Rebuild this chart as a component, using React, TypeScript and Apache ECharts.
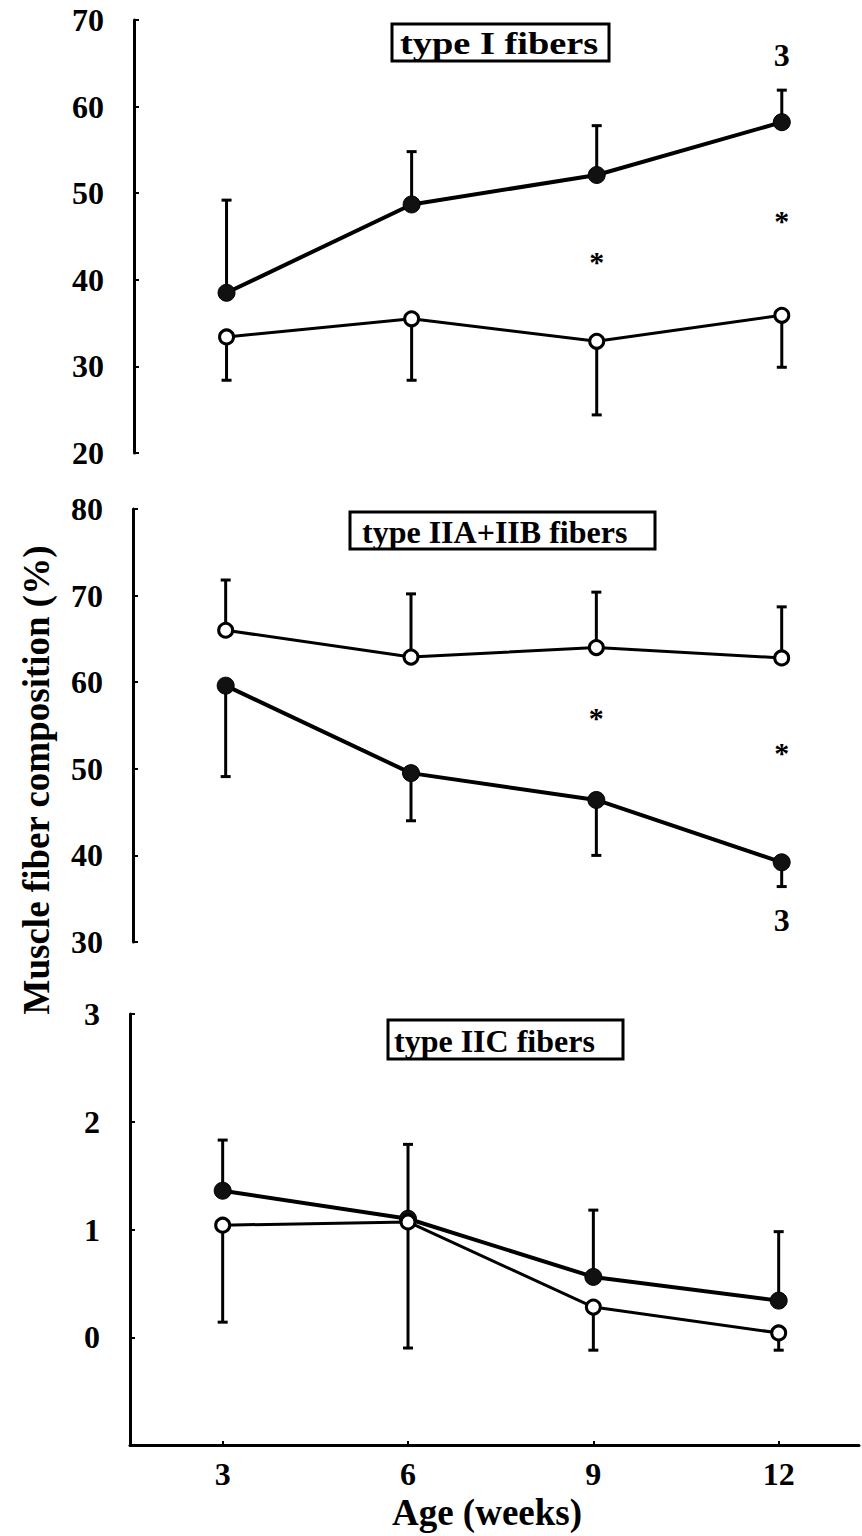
import React, { useEffect, useRef } from "react";
import * as echarts from "echarts";

// ---- data ----
const weeks = [3, 6, 9, 12];
const xTicks = [3, 6, 9, 12];

// type I fibers
const typeIFilledMean = [38.5, 48.7, 52.1, 58.2];
const typeIFilledSD = [10.7, 6.1, 5.7, 3.7]; // drawn upward
const typeIOpenMean = [33.4, 35.5, 32.9, 35.9];
const typeIOpenSD = [5.0, 7.1, 8.5, 6.0]; // drawn downward

// type IIA+IIB fibers
const typeIIFilledMean = [59.6, 49.5, 46.4, 39.2];
const typeIIFilledSD = [10.5, 5.5, 6.4, 2.8]; // downward
const typeIIOpenMean = [66.0, 62.9, 64.0, 62.8];
const typeIIOpenSD = [5.8, 7.3, 6.4, 5.9]; // upward

// type IIC fibers
const typeIICFilledMean = [1.36, 1.1, 0.56, 0.34];
const typeIICFilledSD = [0.47, 0.69, 0.62, 0.64]; // upward
const typeIICOpenMean = [1.04, 1.07, 0.28, 0.04];
const typeIICOpenSD = [0.9, 1.17, 0.4, 0.16]; // downward

const panelTitles = ["type I fibers", "type IIA+IIB fibers", "type IIC fibers"];
const yRanges = [
  [20, 70, 10],
  [30, 80, 10],
  [-1, 3, 1],
];

const annotationsI = [
  { x: 12, y: 66.0, text: "3" },
  { x: 9, y: 42.9, text: "*" },
  { x: 12, y: 47.7, text: "*" },
];
const annotationsII = [
  { x: 9, y: 56.7, text: "*" },
  { x: 12, y: 52.7, text: "*" },
  { x: 12, y: 32.5, text: "3" },
];
const annotationsIIC: { x: number; y: number; text: string }[] = [];

const yAxisTitle = "Muscle fiber composition (%)";
const xAxisTitle = "Age (weeks)";

// ---- layout / style ----
const FONT = '"Liberation Serif", "Times New Roman", Times, serif';
const grids = [
  { left: 134, top: 20, height: 433, width: 739 },
  { left: 133, top: 509, height: 433, width: 732 },
  { left: 130, top: 1014, height: 431, width: 729 },
];
const boxes = [
  { x: 392, y: 24, w: 217, h: 37, pad: 8, sx: 1.2 },
  { x: 350, y: 512, w: 305, h: 37, pad: 12, sx: 1.0 },
  { x: 388, y: 1020, w: 235, h: 39, pad: 6, sx: 1.0 },
];

function errData(means: number[], sds: number[], dir: number) {
  return weeks.map((w, i) => [w, means[i], means[i] + dir * sds[i]]);
}

export default function App() {
  const ref = useRef<HTMLDivElement>(null);
  useEffect(() => {
    if (!ref.current) return;
    const chart = echarts.init(ref.current, undefined, { renderer: "svg" });

    const panels = [
      {
        filled: typeIFilledMean, filledSD: typeIFilledSD, filledDir: 1,
        open: typeIOpenMean, openSD: typeIOpenSD, openDir: -1,
        ann: annotationsI,
      },
      {
        filled: typeIIFilledMean, filledSD: typeIIFilledSD, filledDir: -1,
        open: typeIIOpenMean, openSD: typeIIOpenSD, openDir: 1,
        ann: annotationsII,
      },
      {
        filled: typeIICFilledMean, filledSD: typeIICFilledSD, filledDir: 1,
        open: typeIICOpenMean, openSD: typeIICOpenSD, openDir: -1,
        ann: annotationsIIC,
      },
    ];

    const renderErr = (params: any, api: any) => {
      const x = api.value(0);
      const m = api.value(1);
      const e = api.value(2);
      const p0 = api.coord([x, m]);
      const p1 = api.coord([x, e]);
      const style = { stroke: "#000", lineWidth: 3 };
      return {
        type: "group",
        children: [
          { type: "line", shape: { x1: p0[0], y1: p0[1], x2: p1[0], y2: p1[1] }, style },
          { type: "line", shape: { x1: p1[0] - 5, y1: p1[1], x2: p1[0] + 5, y2: p1[1] }, style },
        ],
      };
    };

    const series: any[] = [];
    panels.forEach((p, i) => {
      series.push({
        type: "custom", xAxisIndex: i, yAxisIndex: i, z: 1,
        renderItem: renderErr, data: errData(p.filled, p.filledSD, p.filledDir),
        encode: { x: 0, y: 1 },
      });
      series.push({
        type: "custom", xAxisIndex: i, yAxisIndex: i, z: 1,
        renderItem: renderErr, data: errData(p.open, p.openSD, p.openDir),
        encode: { x: 0, y: 1 },
      });
      series.push({
        type: "line", xAxisIndex: i, yAxisIndex: i, z: 3,
        data: weeks.map((w, k) => [w, p.filled[k]]),
        symbol: "circle", symbolSize: 17,
        itemStyle: { color: "#111", borderColor: "#000", borderWidth: 1 },
        lineStyle: { color: "#000", width: 4 },
      });
      series.push({
        type: "line", xAxisIndex: i, yAxisIndex: i, z: 4,
        data: weeks.map((w, k) => [w, p.open[k]]),
        symbol: "circle", symbolSize: 14,
        itemStyle: { color: "#fff", borderColor: "#000", borderWidth: 3 },
        lineStyle: { color: "#000", width: 3 },
      });
      if (p.ann.length) {
        series.push({
          type: "scatter", xAxisIndex: i, yAxisIndex: i, z: 5,
          symbolSize: 1, itemStyle: { color: "rgba(0,0,0,0)", opacity: 1 },
          data: p.ann.map((a) => ({
            value: [a.x, a.y],
            label: {
              show: true, position: "inside", formatter: a.text,
              offset: a.text === "*" ? [0, 7] : [0, 0],
              fontFamily: FONT, fontWeight: "bold", opacity: 1,
              fontSize: a.text === "*" ? 30 : 32, color: "#000",
            },
          })),
        });
      }
    });

    const labelStyle = { fontFamily: FONT, fontWeight: "bold", fontSize: 32, color: "#000" };

    const graphic: any[] = [];
    boxes.forEach((b, i) => {
      graphic.push({
        type: "rect", shape: { x: b.x, y: b.y, width: b.w, height: b.h },
        style: { fill: "#fff", stroke: "#000", lineWidth: 3 }, z: 10,
      });
      graphic.push({
        type: "text", x: b.x + b.pad, y: b.y + b.h / 2 + 1, scaleX: b.sx, z: 11,
        style: {
          text: panelTitles[i], fontFamily: FONT, fontWeight: "bold", fontSize: 32,
          fill: "#000", align: "left", verticalAlign: "middle",
        },
      });
    });
    graphic.push({
      type: "text", x: 36, y: 780, rotation: Math.PI / 2, z: 11,
      style: {
        text: yAxisTitle, fontFamily: FONT, fontWeight: "bold", fontSize: 37,
        fill: "#000", align: "center", verticalAlign: "middle",
      },
    });
    graphic.push({
      type: "text", x: 487, y: 1512, z: 11,
      style: {
        text: xAxisTitle, fontFamily: FONT, fontWeight: "bold", fontSize: 37,
        fill: "#000", align: "center", verticalAlign: "middle",
      },
    });

    chart.setOption({
      animation: false,
      backgroundColor: "#fff",
      grid: grids.map((g) => ({ ...g, containLabel: false })),
      xAxis: grids.map((g, i) => ({
        type: "value", gridIndex: i, min: 1.5, max: 13.3,
        show: i === 2,
        axisLine: { show: true, onZero: false, lineStyle: { color: "#000", width: 3 } },
        axisTick: { show: true, inside: true, length: 4, customValues: xTicks, lineStyle: { color: "#000", width: 2 } },
        axisLabel: { ...labelStyle, margin: 13, customValues: xTicks },
        splitLine: { show: false },
      })),
      yAxis: yRanges.map((r, i) => ({
        type: "value", gridIndex: i, min: r[0], max: r[1], interval: r[2],
        axisLine: { show: true, onZero: false, lineStyle: { color: "#000", width: 3 } },
        axisTick: { show: true, inside: true, length: 5, lineStyle: { color: "#000", width: 2 } },
        axisLabel: {
          ...labelStyle, margin: 30,
          formatter: (v: number) => (v < 0 ? "" : String(v)),
        },
        splitLine: { show: false },
      })),
      series,
      graphic,
    });
    return () => chart.dispose();
  }, []);
  return (
    <div
      ref={ref}
      style={{ position: "absolute", left: 0, top: 0, width: 862, height: 1536, background: "#fff" }}
    />
  );
}
